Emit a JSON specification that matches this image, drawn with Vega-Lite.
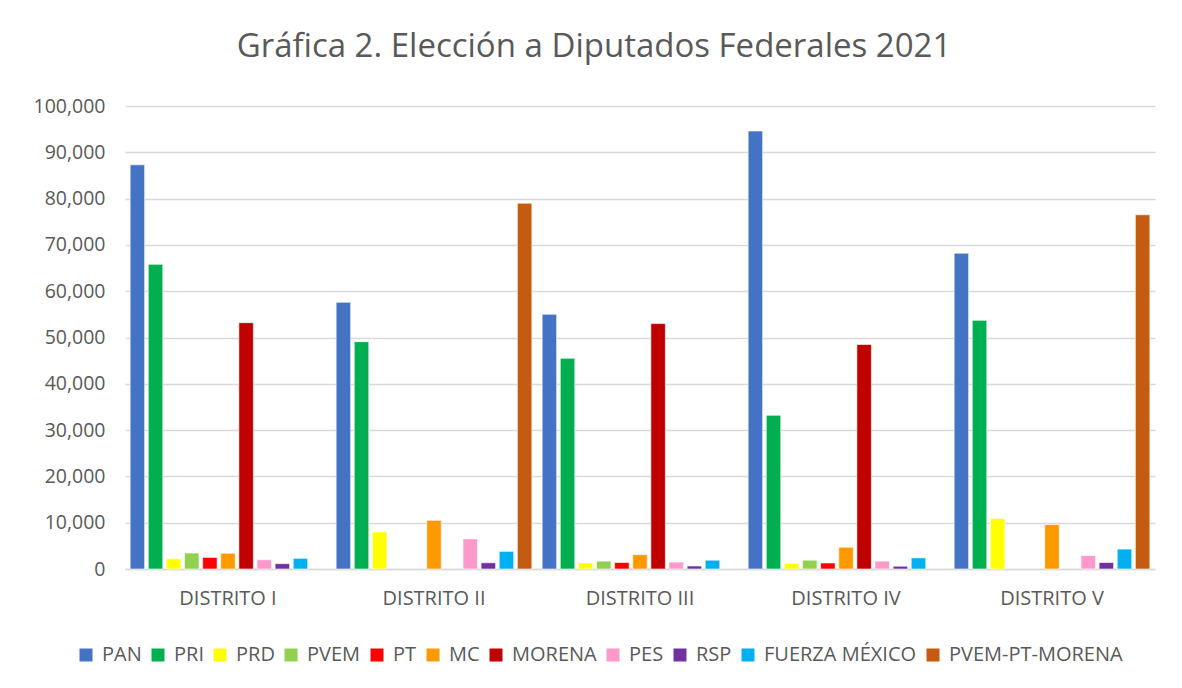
{
  "$schema": "https://vega.github.io/schema/vega-lite/v6.json",
  "autosize": {"type": "none"},
  "width": 1030,
  "height": 463,
  "padding": {"left": 125, "top": 106, "right": 27, "bottom": 119},
  "background": "white",
  "title": {
    "text": "Gráfica 2. Elección a Diputados Federales 2021",
    "font": "Open Sans",
    "fontSize": 33,
    "fontWeight": "normal",
    "color": "#595959",
    "anchor": "middle",
    "baseline": "alphabetic",
    "offset": 6,
    "dx": -46
  },
  "data": {
    "values": [
      {"distrito": "DISTRITO I", "partido": "PAN", "votos": 87300},
      {"distrito": "DISTRITO I", "partido": "PRI", "votos": 65800},
      {"distrito": "DISTRITO I", "partido": "PRD", "votos": 2200},
      {"distrito": "DISTRITO I", "partido": "PVEM", "votos": 3450},
      {"distrito": "DISTRITO I", "partido": "PT", "votos": 2500},
      {"distrito": "DISTRITO I", "partido": "MC", "votos": 3400},
      {"distrito": "DISTRITO I", "partido": "MORENA", "votos": 53200},
      {"distrito": "DISTRITO I", "partido": "PES", "votos": 2000},
      {"distrito": "DISTRITO I", "partido": "RSP", "votos": 1150},
      {"distrito": "DISTRITO I", "partido": "FUERZA MÉXICO", "votos": 2300},
      {"distrito": "DISTRITO II", "partido": "PAN", "votos": 57600},
      {"distrito": "DISTRITO II", "partido": "PRI", "votos": 49100},
      {"distrito": "DISTRITO II", "partido": "PRD", "votos": 8000},
      {"distrito": "DISTRITO II", "partido": "MC", "votos": 10500},
      {"distrito": "DISTRITO II", "partido": "PES", "votos": 6500},
      {"distrito": "DISTRITO II", "partido": "RSP", "votos": 1350},
      {"distrito": "DISTRITO II", "partido": "FUERZA MÉXICO", "votos": 3800},
      {"distrito": "DISTRITO II", "partido": "PVEM-PT-MORENA", "votos": 79000},
      {"distrito": "DISTRITO III", "partido": "PAN", "votos": 55000},
      {"distrito": "DISTRITO III", "partido": "PRI", "votos": 45500},
      {"distrito": "DISTRITO III", "partido": "PRD", "votos": 1300},
      {"distrito": "DISTRITO III", "partido": "PVEM", "votos": 1700},
      {"distrito": "DISTRITO III", "partido": "PT", "votos": 1400},
      {"distrito": "DISTRITO III", "partido": "MC", "votos": 3100},
      {"distrito": "DISTRITO III", "partido": "MORENA", "votos": 53000},
      {"distrito": "DISTRITO III", "partido": "PES", "votos": 1500},
      {"distrito": "DISTRITO III", "partido": "RSP", "votos": 650},
      {"distrito": "DISTRITO III", "partido": "FUERZA MÉXICO", "votos": 1900},
      {"distrito": "DISTRITO IV", "partido": "PAN", "votos": 94600},
      {"distrito": "DISTRITO IV", "partido": "PRI", "votos": 33200},
      {"distrito": "DISTRITO IV", "partido": "PRD", "votos": 1200},
      {"distrito": "DISTRITO IV", "partido": "PVEM", "votos": 1900},
      {"distrito": "DISTRITO IV", "partido": "PT", "votos": 1300},
      {"distrito": "DISTRITO IV", "partido": "MC", "votos": 4700},
      {"distrito": "DISTRITO IV", "partido": "MORENA", "votos": 48500},
      {"distrito": "DISTRITO IV", "partido": "PES", "votos": 1700},
      {"distrito": "DISTRITO IV", "partido": "RSP", "votos": 600},
      {"distrito": "DISTRITO IV", "partido": "FUERZA MÉXICO", "votos": 2400},
      {"distrito": "DISTRITO V", "partido": "PAN", "votos": 68200},
      {"distrito": "DISTRITO V", "partido": "PRI", "votos": 53700},
      {"distrito": "DISTRITO V", "partido": "PRD", "votos": 10900},
      {"distrito": "DISTRITO V", "partido": "MC", "votos": 9600},
      {"distrito": "DISTRITO V", "partido": "PES", "votos": 2900},
      {"distrito": "DISTRITO V", "partido": "RSP", "votos": 1400},
      {"distrito": "DISTRITO V", "partido": "FUERZA MÉXICO", "votos": 4300},
      {"distrito": "DISTRITO V", "partido": "PVEM-PT-MORENA", "votos": 76500}
    ]
  },
  "mark": {"type": "bar", "stroke": "white", "strokeWidth": 0.6},
  "encoding": {
    "x": {
      "field": "distrito",
      "type": "nominal",
      "sort": ["DISTRITO I", "DISTRITO II", "DISTRITO III", "DISTRITO IV", "DISTRITO V"],
      "scale": {"paddingInner": 0.05, "paddingOuter": 0.025},
      "axis": {
        "title": null,
        "labelAngle": 0,
        "labelFont": "Open Sans",
        "labelFontSize": 20,
        "labelColor": "#595959",
        "labelPadding": 19,
        "ticks": false,
        "domainColor": "#d9d9d9",
        "domainWidth": 1.5
      }
    },
    "xOffset": {
      "field": "partido",
      "type": "nominal",
      "scale": {
        "domain": ["PAN", "PRI", "PRD", "PVEM", "PT", "MC", "MORENA", "PES", "RSP", "FUERZA MÉXICO", "PVEM-PT-MORENA"],
        "paddingInner": 0.2,
        "paddingOuter": 0
      }
    },
    "y": {
      "field": "votos",
      "type": "quantitative",
      "scale": {"domain": [0, 100000], "nice": false},
      "axis": {
        "title": null,
        "format": ",.0f",
        "values": [0, 10000, 20000, 30000, 40000, 50000, 60000, 70000, 80000, 90000, 100000],
        "labelOverlap": false,
        "labelFont": "Open Sans",
        "labelFontSize": 19.5,
        "labelColor": "#595959",
        "labelPadding": 20,
        "ticks": false,
        "domain": false,
        "gridColor": "#d9d9d9",
        "gridWidth": 1.5
      }
    },
    "color": {
      "field": "partido",
      "type": "nominal",
      "scale": {
        "domain": ["PAN", "PRI", "PRD", "PVEM", "PT", "MC", "MORENA", "PES", "RSP", "FUERZA MÉXICO", "PVEM-PT-MORENA"],
        "range": ["#4472C4", "#00B050", "#FFFF00", "#92D050", "#FF0000", "#FF9900", "#C00000", "#FF99CC", "#7030A0", "#00B0F0", "#C55A11"]
      },
      "legend": {
        "title": null,
        "orient": "none",
        "legendX": -49,
        "legendY": 539,
        "direction": "horizontal",
        "columns": 11,
        "symbolType": "square",
        "symbolSize": 169,
        "symbolStrokeWidth": 0,
        "labelFont": "Open Sans",
        "labelFontSize": 20,
        "labelLimit": 400,
        "labelColor": "#595959",
        "labelOffset": 6,
        "columnPadding": 6
      }
    }
  },
  "config": {
    "view": {"stroke": null}
  }
}
